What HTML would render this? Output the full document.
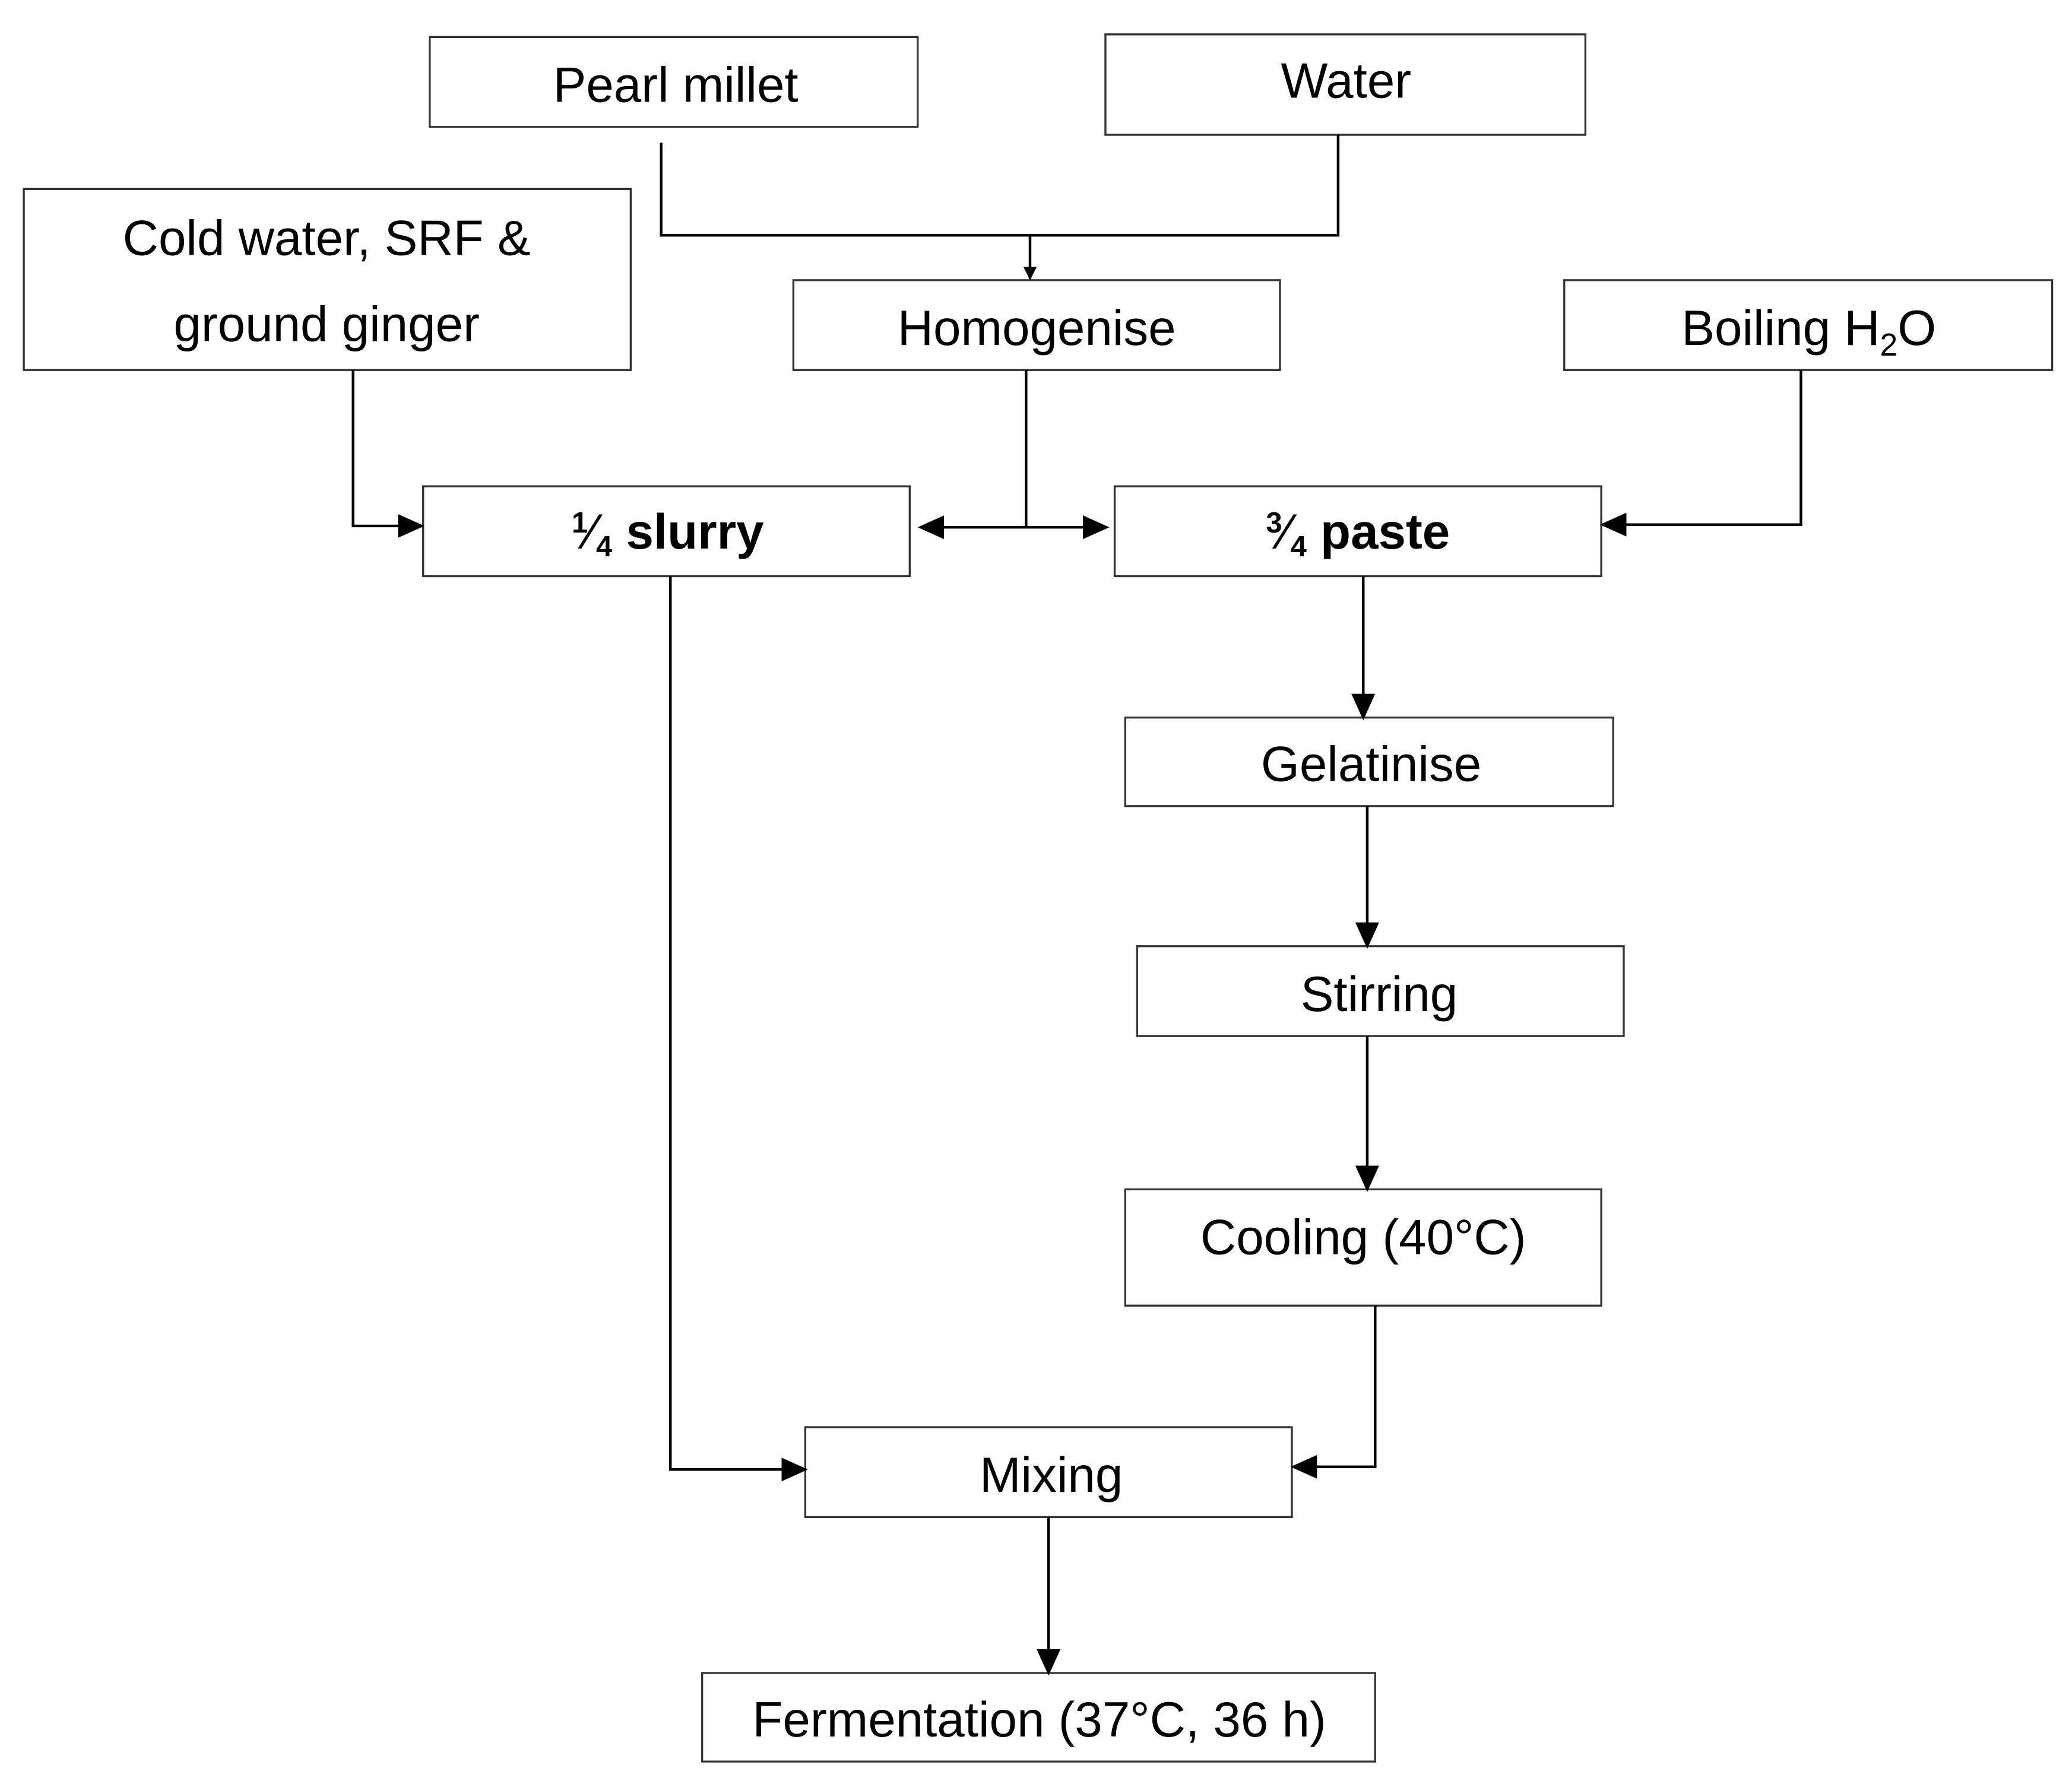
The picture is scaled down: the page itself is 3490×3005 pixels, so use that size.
<!DOCTYPE html>
<html><head><meta charset="utf-8"><style>
html,body{margin:0;padding:0;background:#fff;width:3490px;height:3005px;overflow:hidden}
svg{display:block}
text{font-family:"Liberation Sans",Arial,sans-serif;font-size:37.5px;fill:#000;text-anchor:middle}
</style></head><body>
<svg width="3490" height="3005" viewBox="0 0 1567 1350" preserveAspectRatio="none" xmlns="http://www.w3.org/2000/svg">
<defs><marker id="a" markerWidth="10" markerHeight="10" refX="9" refY="5" orient="auto" markerUnits="userSpaceOnUse" viewBox="0 0 10 10"><path d="M0,0 L10,5 L0,10 z" fill="#000"/></marker>
<marker id="A" markerWidth="20" markerHeight="20" refX="18" refY="10" orient="auto-start-reverse" markerUnits="userSpaceOnUse" viewBox="0 0 20 20"><path d="M0,1 L20,10 L0,19 z" fill="#000"/></marker></defs>
<g fill="#fff" stroke="#333" stroke-width="1.5">
<rect x="325" y="28" width="369" height="68"/>
<rect x="836" y="26" width="363" height="76"/>
<rect x="18" y="143" width="459" height="137"/>
<rect x="600" y="212" width="368" height="68"/>
<rect x="1183" y="212" width="369" height="68"/>
<rect x="320" y="368" width="368" height="68"/>
<rect x="843" y="368" width="368" height="68"/>
<rect x="851" y="543" width="369" height="67"/>
<rect x="860" y="716" width="368" height="68"/>
<rect x="851" y="900" width="360" height="88"/>
<rect x="609" y="1080" width="368" height="68"/>
<rect x="531" y="1266" width="509" height="67"/>
</g>
<g fill="none" stroke="#000" stroke-width="2">
<polyline points="500,108 500,178 1012,178 1012,102"/>
<line x1="779" y1="178" x2="779" y2="211" marker-end="url(#a)"/>
<polyline points="267,280 267,398 319,398" marker-end="url(#A)"/>
<line x1="776" y1="280" x2="776" y2="399"/>
<line x1="696" y1="399" x2="837" y2="399" marker-start="url(#A)" marker-end="url(#A)"/>
<polyline points="1362,280 1362,397 1212,397" marker-end="url(#A)"/>
<line x1="1031" y1="436" x2="1031" y2="543" marker-end="url(#A)"/>
<line x1="1034" y1="610" x2="1034" y2="716" marker-end="url(#A)"/>
<line x1="1034" y1="784" x2="1034" y2="900" marker-end="url(#A)"/>
<polyline points="1040,988 1040,1110 978,1110" marker-end="url(#A)"/>
<polyline points="507,436 507,1112 609,1112" marker-end="url(#A)"/>
<line x1="793" y1="1148" x2="793" y2="1266" marker-end="url(#A)"/>
</g>
<text x="511" y="77">Pearl millet</text>
<text x="1018" y="74">Water</text>
<text x="247" y="193">Cold water, SRF &amp;</text>
<text x="247" y="258">ground ginger</text>
<text x="784" y="261">Homogenise</text>
<text x="1368" y="261">Boiling H<tspan font-size="24" dy="8">2</tspan><tspan dy="-8">O</tspan></text>
<text x="505" y="415" font-weight="bold"><tspan font-size="22" dy="-12">1</tspan><tspan font-weight="normal" dy="12">⁄</tspan><tspan font-size="22" dy="6">4</tspan><tspan dy="-6"> slurry</tspan></text>
<text x="1027" y="415" font-weight="bold"><tspan font-size="22" dy="-12">3</tspan><tspan font-weight="normal" dy="12">⁄</tspan><tspan font-size="22" dy="6">4</tspan><tspan dy="-6"> paste</tspan></text>
<text x="1037" y="591">Gelatinise</text>
<text x="1043" y="765">Stirring</text>
<text x="1031" y="949">Cooling (40°C)</text>
<text x="795" y="1129">Mixing</text>
<text x="786" y="1314">Fermentation (37°C, 36 h)</text>
</svg>
</body></html>
